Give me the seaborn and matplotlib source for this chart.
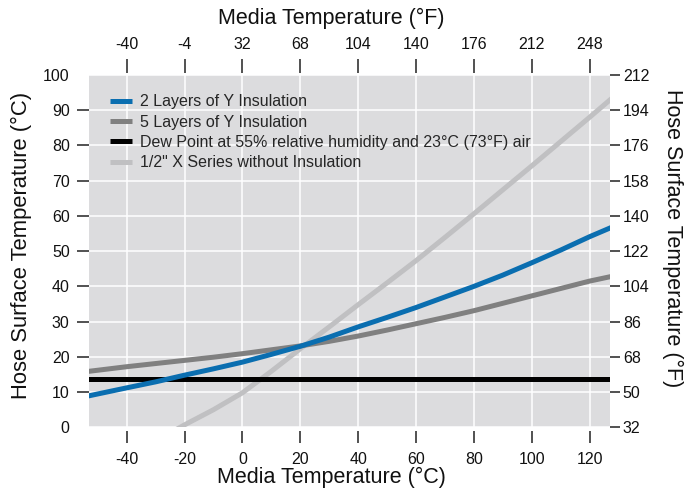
import matplotlib
matplotlib.use("Agg")
import matplotlib.pyplot as plt
import seaborn as sns
import pandas as pd

# ---- data ----
media_c = [-55, -40, -30, -20, -10, 0, 10, 20, 30, 40, 50, 60, 70, 80, 90, 100, 110, 120, 128]
two_layers = [8.6, 11.2, 12.9, 14.8, 16.6, 18.5, 20.7, 23.0, 25.6, 28.5, 31.2, 34.0, 37.0, 40.0, 43.2, 46.7, 50.3, 54.1, 56.9]
five_layers = [15.7, 17.2, 18.1, 19.0, 19.9, 20.9, 22.0, 23.1, 24.4, 25.9, 27.6, 29.4, 31.2, 33.1, 35.2, 37.3, 39.4, 41.5, 42.9]
dew_x = [-55, 128]
dew_point = [13.8, 13.8]
bare_x = [-25, -20, -10, 0, 10, 20, 30, 40, 50, 60, 70, 80, 90, 100, 110, 120, 128]
bare_hose = [-1.6, 0.7, 5.0, 9.8, 15.9, 22.3, 28.5, 34.8, 41.0, 47.3, 53.9, 60.6, 67.4, 74.2, 81.1, 88.0, 93.6]

labels = ["2 Layers of Y Insulation", "5 Layers of Y Insulation",
          "Dew Point at 55% relative humidity and 23°C (73°F) air",
          "1/2\" X Series without Insulation"]
colors = ["#0a6eb0", "#808080", "#000000", "#c0c0c2"]

x_ticks_c = [-40, -20, 0, 20, 40, 60, 80, 100, 120]
top_ticks_f = [-40, -4, 32, 68, 104, 140, 176, 212, 248]
y_ticks_c = [0, 10, 20, 30, 40, 50, 60, 70, 80, 90, 100]
right_ticks_f = [32, 50, 68, 86, 104, 122, 140, 158, 176, 194, 212]

sns.set_theme(style="darkgrid")
plt.rcParams["font.family"] = ["Liberation Sans", "DejaVu Sans"]
plt.rcParams["axes.unicode_minus"] = False

fig = plt.figure(figsize=(6.96, 4.96), dpi=100)
ax = fig.add_axes([0.1272, 0.1385, 0.7486, 0.7103])
ax.set_facecolor("#dcdcde")
fig.patch.set_facecolor("white")

series = [
    (bare_x, bare_hose, labels[3], colors[3], 2),
    (dew_x, dew_point, labels[2], colors[2], 3),
    (media_c, five_layers, labels[1], colors[1], 4),
    (media_c, two_layers, labels[0], colors[0], 5),
]
for xs, ys, lab, col, z in series:
    df = pd.DataFrame({"x": xs, "y": ys})
    sns.lineplot(data=df, x="x", y="y", ax=ax, color=col, linewidth=3.6,
                 label=lab, zorder=z, legend=False, solid_capstyle="butt")

ax.set_xlim(-53.2, 126.9)
ax.set_ylim(0, 100)
ax.set_xticks(x_ticks_c)
ax.set_yticks(y_ticks_c)
ax.grid(True, color="white", linewidth=1.1)
for s in ax.spines.values():
    s.set_visible(False)
ax.spines["bottom"].set_position(("outward", 3))

tick_col = "#222222"
ax.tick_params(axis="x", bottom=True, length=8.4, width=1.1, color=tick_col,
               pad=6.5, labelsize=11.5, labelcolor="#111111")
ax.tick_params(axis="y", left=True, length=8.6, width=1.1, color=tick_col,
               pad=5, labelsize=11.5, labelcolor="#111111")
yt = ax.yaxis.get_major_ticks()
yt[0].tick1line.set_visible(False)
yt[-1].tick1line.set_visible(False)

c2f = lambda c: c * 9 / 5 + 32
f2c = lambda f: (f - 32) * 5 / 9

secx = ax.secondary_xaxis(1.005, functions=(c2f, f2c))
secx.set_xticks(top_ticks_f)
secx.tick_params(axis="x", top=True, length=10, width=1.1, color=tick_col,
                 pad=5.5, labelsize=11.5, labelcolor="#111111")
for s in secx.spines.values():
    s.set_visible(False)

secy = ax.secondary_yaxis("right", functions=(c2f, f2c))
secy.set_yticks(right_ticks_f)
secy.tick_params(axis="y", right=True, length=7.5, width=1.1, color=tick_col,
                 pad=2, labelsize=11.5, labelcolor="#111111")
for s in secy.spines.values():
    s.set_visible(False)
rt = secy.yaxis.get_major_ticks()
rt[0].tick1line.set_visible(False)
rt[-1].tick1line.set_visible(False)

lab_kw = dict(fontsize=15.5, color="#111111")
ax.set_xlabel("Media Temperature (°C)", **lab_kw)
ax.xaxis.set_label_coords(0.466, -0.141, transform=ax.transAxes)
ax.xaxis.label.set_va("center")
secx.set_xlabel("Media Temperature (°F)", **lab_kw)
secx.xaxis.set_label_coords(0.466, 1.161, transform=ax.transAxes)
secx.xaxis.label.set_va("center")

ax.set_ylabel("Hose Surface Temperature (°C)", fontsize=15.8, color="#111111")
ax.yaxis.set_label_coords(-0.128, 0.517, transform=ax.transAxes)
ax.yaxis.label.set_va("center")
secy.set_ylabel("Hose Surface Temperature (°F)", fontsize=15.5, color="#111111", rotation=270)
secy.yaxis.set_label_coords(1.121, 0.537, transform=ax.transAxes)
secy.yaxis.label.set_va("center")

handles, labs = ax.get_legend_handles_labels()
order = [labs.index(l) for l in labels]
ax.legend([handles[i] for i in order], [labs[i] for i in order],
          loc="upper left", bbox_to_anchor=(0.042, 0.945), frameon=False,
          fontsize=11.5, handlelength=1.36, handletextpad=0.5,
          labelspacing=0.33, borderpad=0, borderaxespad=0)

fig.savefig("out.png", dpi=100)
